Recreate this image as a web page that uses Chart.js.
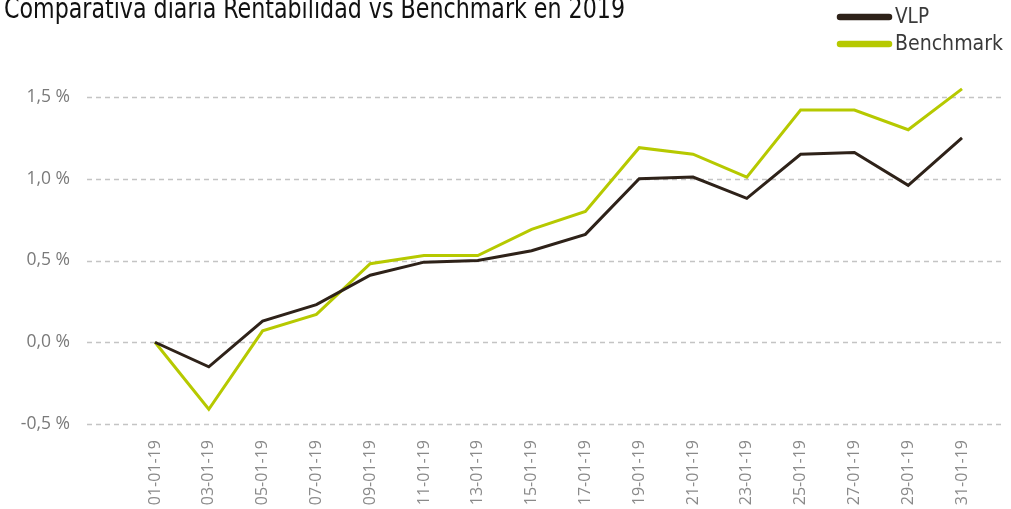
<!DOCTYPE html>
<html>
<head>
<meta charset="utf-8">
<script src="https://cdn.jsdelivr.net/npm/chart.js@4/dist/chart.umd.min.js"></script>
<style>
  html, body { margin: 0; padding: 0; background: #fff; }
  #wrap { width: 1011px; height: 509px; position: relative; }
</style>
</head>
<body>
<div id="wrap"><canvas id="chart" width="1011" height="509"></canvas></div>
<script>
const TITLE = "Comparativa diaria Rentabilidad vs Benchmark en 2019";

const labels = ["01-01-19", "03-01-19", "05-01-19", "07-01-19", "09-01-19", "11-01-19",
  "13-01-19", "15-01-19", "17-01-19", "19-01-19", "21-01-19", "23-01-19",
  "25-01-19", "27-01-19", "29-01-19", "31-01-19"];

const vlp = [0, -0.15, 0.13, 0.23, 0.41, 0.49, 0.50, 0.56, 0.66, 1.00, 1.01, 0.88, 1.15, 1.16, 0.96, 1.25];
const benchmark = [0, -0.41, 0.07, 0.17, 0.48, 0.53, 0.53, 0.69, 0.80, 1.19, 1.15, 1.01, 1.42, 1.42, 1.30, 1.55];

const yTicks = [-0.5, 0, 0.5, 1.0, 1.5];

const seriesNames = ["VLP", "Benchmark"];
const seriesColors = ["#2e2219", "#b6c900"];

const condensed = "'DejaVu Sans Condensed', 'Liberation Sans Narrow', 'DejaVu Sans', sans-serif";

// dashed grid lines wider than the plot, plus title and stacked legend
const decor = {
  id: "decor",
  beforeDatasetsDraw(chart) {
    const ctx = chart.ctx;
    const y = chart.scales.y;
    ctx.save();
    ctx.strokeStyle = "#c4c4c4";
    ctx.lineWidth = 1.3;
    ctx.setLineDash([5, 4]);
    yTicks.forEach(v => {
      const py = Math.round(y.getPixelForValue(v)) + 0.5;
      ctx.beginPath();
      ctx.moveTo(87, py);
      ctx.lineTo(1002, py);
      ctx.stroke();
    });
    ctx.restore();
  },
  afterDraw(chart) {
    const ctx = chart.ctx;
    ctx.save();
    // title
    ctx.fillStyle = "#111";
    ctx.font = "28px " + condensed;
    ctx.textBaseline = "alphabetic";
    let w = ctx.measureText(TITLE).width;
    ctx.translate(4, 18);
    ctx.scale(621 / w, 1);
    ctx.fillText(TITLE, 0, 0);
    ctx.restore();

    // legend
    ctx.save();
    const rows = [17, 44];
    const textW = [34, 108];
    chart.data.datasets.forEach((ds, i) => {
      ctx.strokeStyle = ds.borderColor;
      ctx.lineWidth = 6.5;
      ctx.lineCap = "round";
      ctx.beginPath();
      ctx.moveTo(840, rows[i]);
      ctx.lineTo(889, rows[i]);
      ctx.stroke();
      ctx.fillStyle = "#3a3a3a";
      ctx.font = "21px " + condensed;
      ctx.textBaseline = "middle";
      const tw = ctx.measureText(ds.label).width;
      ctx.save();
      ctx.translate(895, rows[i] + 1);
      ctx.scale(textW[i] / tw, 1);
      ctx.fillText(ds.label, 0, 0);
      ctx.restore();
    });
    ctx.restore();
  }
};

new Chart(document.getElementById("chart"), {
  type: "line",
  data: {
    labels,
    datasets: [
      { label: seriesNames[0], data: vlp, borderColor: seriesColors[0], borderWidth: 3, pointRadius: 0, tension: 0, clip: false },
      { label: seriesNames[1], data: benchmark, borderColor: seriesColors[1], borderWidth: 3, pointRadius: 0, tension: 0, clip: false }
    ]
  },
  options: {
    responsive: false,
    animation: false,
    layout: { padding: { top: 97, right: 49, left: 0, bottom: 0 } },
    plugins: {
      legend: { display: false },
      tooltip: { enabled: false }
    },
    scales: {
      x: {
        offset: false,
        border: { display: false },
        grid: { display: false, drawTicks: false },
        afterFit(scale) { scale.height = 85; },
        ticks: {
          minRotation: 90,
          maxRotation: 90,
          autoSkip: false,
          padding: 16,
          color: "#8a8a8a",
          font: { family: "'Open Sans', sans-serif", size: 16 }
        }
      },
      y: {
        min: -0.5,
        max: 1.5,
        border: { display: false },
        grid: { display: false, drawTicks: false },
        afterFit(scale) {
          scale.width = 155;
          scale.paddingTop = 0;
          scale.paddingBottom = 0;
        },
        afterBuildTicks(scale) { scale.ticks = yTicks.map(v => ({ value: v })); },
        ticks: {
          padding: 85,
          color: "#7a7a7a",
          font: { family: "'Open Sans', sans-serif", size: 17.5 },
          callback: v => v.toFixed(1).replace(".", ",") + " %"
        }
      }
    }
  },
  plugins: [decor]
});
</script>
</body>
</html>
